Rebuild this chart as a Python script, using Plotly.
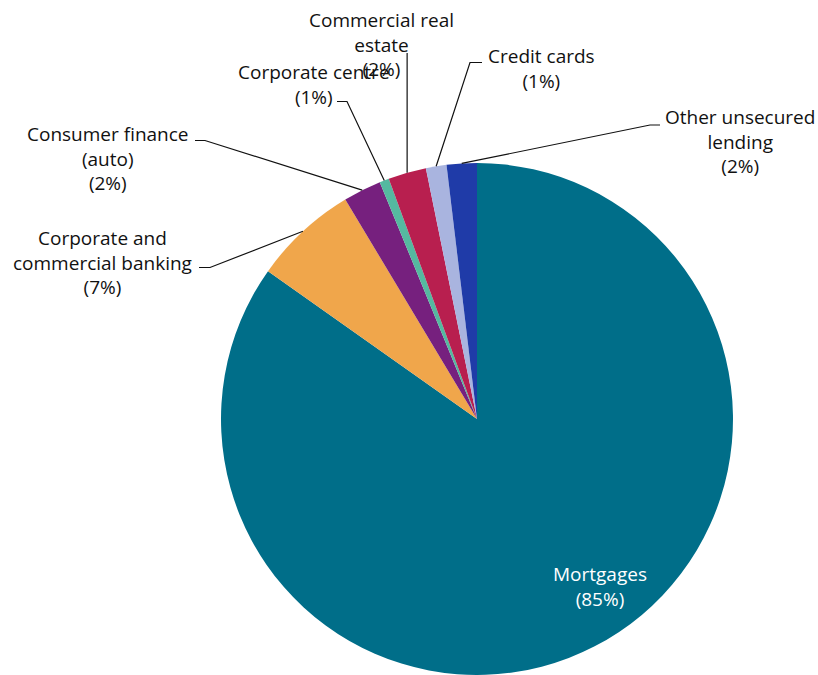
import math
import plotly.graph_objects as go

# Loan book composition (share of total, %)
segments = [
    "Mortgages",
    "Corporate and commercial banking",
    "Consumer finance (auto)",
    "Corporate centre",
    "Commercial real estate",
    "Credit cards",
    "Other unsecured lending",
]
label_names = [
    "Mortgages",
    "Corporate and<br>commercial banking",
    "Consumer finance<br>(auto)",
    "Corporate centre",
    "Commercial real<br>estate",
    "Credit cards",
    "Other unsecured<br>lending",
]
shares = [84.8, 6.6, 2.4, 0.6, 2.4, 1.3, 1.9]
colors = ["#006E89", "#F0A64B", "#76207E", "#55B9A0", "#B81F4F", "#A9B4DF", "#1F3BA8"]

W, H = 818, 675
CX, CY, R = 477, 419, 256  # pie centre and radius, px

# label placement: (centre x, middle y) in px, plus leader start/elbow in px
label_pos = {
    0: (600, 586),
    1: (102, 262),
    2: (108, 158),
    3: (314, 85),
    4: (381, 44),
    5: (541, 68),
    6: (740, 141),
}
leaders = {
    1: ((199, 267.5), (210, 267.5)),
    2: ((195, 140.5), (205, 140.5)),
    3: ((337, 101.5), (347, 101.5)),
    4: (None, (None, 53)),
    5: ((482, 62.5), (470, 62.5)),
    6: ((660, 125), (650, 125)),
}

total = sum(shares)


def px(x, y):
    return x / W, 1 - y / H


fig = go.Figure(
    go.Pie(
        labels=segments,
        values=shares,
        sort=False,
        direction="clockwise",
        rotation=0,
        marker=dict(colors=colors, line=dict(width=0)),
        textinfo="none",
        hoverinfo="label+percent",
        showlegend=False,
        domain=dict(x=[(CX - 257) / W, (CX + 257) / W], y=[0, (H - (CY - R)) / H]),
    )
)

font_family = "'Open Sans', Roboto, sans-serif"
annotations = []
shapes = []
cum = 0.0
for i, v in enumerate(shares):
    mid = 2 * math.pi * (cum + v / 2) / total
    cum += v
    ex = CX + R * math.sin(mid)
    ey = CY - R * math.cos(mid)
    pct = round(100 * v / total)
    text = f"{label_names[i]}<br>({pct}%)"
    lx, ly = label_pos[i]
    ax, ay = px(lx, ly)
    annotations.append(dict(
        x=ax, y=ay, xref="paper", yref="paper", text=text, showarrow=False,
        xanchor="center", yanchor="middle", align="center",
        font=dict(family=font_family, size=19, color="#FFFFFF" if i == 0 else "#111111"),
    ))
    if i in leaders:
        start, elbow = leaders[i]
        bx = ex if elbow[0] is None else elbow[0]
        by = elbow[1]
        pts = []
        if start is not None:
            pts.append(px(*start))
        pts.append(px(bx, by))
        pts.append(px(ex, ey))
        path = "M " + " L ".join(f"{p[0]:.5f},{p[1]:.5f}" for p in pts)
        shapes.append(dict(type="path", path=path, xref="paper", yref="paper",
                           line=dict(color="#111111", width=1.2)))

fig.update_layout(
    width=W, height=H,
    margin=dict(l=0, r=0, t=0, b=0, pad=0),
    paper_bgcolor="#FFFFFF",
    plot_bgcolor="#FFFFFF",
    annotations=annotations,
    shapes=shapes,
)

fig.write_html("out.html")
